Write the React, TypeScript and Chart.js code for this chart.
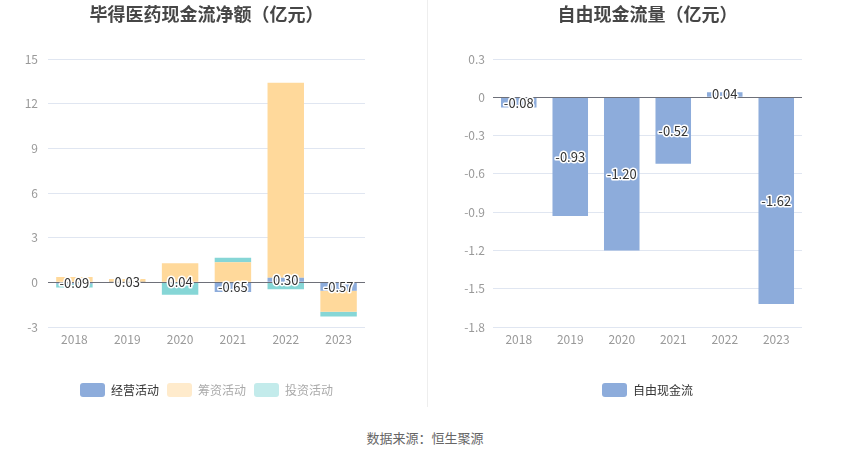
import { useEffect, useRef } from "react";
import { Chart, registerables } from "chart.js";

Chart.register(...registerables);

const YEARS = ["2018", "2019", "2020", "2021", "2022", "2023"];
// 现金流净额（亿元）
const OPERATING = [-0.09, 0.03, 0.04, -0.65, 0.3, -0.57];
const FINANCING = [0.35, 0.2, 1.25, 1.35, 13.1, -1.41];
const INVESTING = [-0.25, -0.02, -0.83, 0.3, -0.47, -0.32];
// 自由现金流量（亿元）
const FREE_CASH_FLOW = [-0.08, -0.93, -1.2, -0.52, 0.04, -1.62];

const LEFT_AXIS = { min: -3, max: 15, step: 3, decimals: 0 };
const RIGHT_AXIS = { min: -1.8, max: 0.3, step: 0.3, decimals: 1 };

const FONT = "'Noto Sans CJK SC', 'Noto Sans', sans-serif";
const BLUE = "#8DACDB";
const YELLOW = "#FFD99B";
const TEAL = "#86D6D6";

// zero line on top of the bars + value labels of the first series
const barLabels = {
  id: "barLabels",
  afterDatasetsDraw(chart: any) {
    const { ctx, chartArea, scales } = chart;
    const y0 = Math.round(scales.y.getPixelForValue(0)) + 0.5;
    ctx.save();
    ctx.strokeStyle = "#6E7079";
    ctx.lineWidth = 1;
    ctx.beginPath();
    ctx.moveTo(chartArea.left, y0);
    ctx.lineTo(chartArea.right, y0);
    ctx.stroke();

    const meta = chart.getDatasetMeta(0);
    const values = chart.data.datasets[0].data as number[];
    ctx.font = `13px ${FONT}`;
    ctx.textAlign = "center";
    ctx.textBaseline = "middle";
    ctx.lineJoin = "round";
    meta.data.forEach((bar: any, i: number) => {
      const { x, y, base } = bar.getProps(["x", "y", "base"], true);
      const cy = (y + base) / 2;
      const text = values[i].toFixed(2);
      ctx.strokeStyle = "#fff";
      ctx.lineWidth = 3;
      ctx.strokeText(text, x, cy);
      ctx.fillStyle = "#333";
      ctx.fillText(text, x, cy);
    });
    ctx.restore();
  },
};

type LegendEntry = { text: string; box: string; color: string };

type PanelProps = {
  title: string;
  datasets: { label: string; data: number[]; color: string }[];
  legend: LegendEntry[];
  axis: { min: number; max: number; step: number; decimals: number };
  axisWidth: number;
  tickPad: number;
  rightPad: number;
  style: React.CSSProperties;
};

function Panel({ title, datasets, legend, axis, axisWidth, tickPad, rightPad, style }: PanelProps) {
  const canvasRef = useRef<HTMLCanvasElement>(null);

  useEffect(() => {
    if (!canvasRef.current) return;
    const chart = new Chart(canvasRef.current, {
      type: "bar",
      data: {
        labels: YEARS,
        datasets: datasets.map((d) => ({
          label: d.label,
          data: d.data,
          backgroundColor: d.color,
          borderWidth: 0,
          barPercentage: 0.69,
          categoryPercentage: 1,
        })),
      },
      options: {
        animation: false,
        responsive: true,
        maintainAspectRatio: false,
        layout: { padding: { left: 0, right: rightPad, top: 0, bottom: 3 } },
        plugins: {
          title: {
            display: true,
            text: title,
            fullSize: false,
            color: "#464646",
            font: { family: FONT, size: 18, weight: "bold" },
            padding: { top: 3, bottom: 34.4 },
          },
          legend: {
            position: "bottom",
            fullSize: false,
            onClick: () => {},
            labels: {
              boxWidth: 25,
              boxHeight: 14,
              padding: 8,
              useBorderRadius: true,
              borderRadius: 3,
              font: { family: FONT, size: 12 },
              generateLabels: () =>
                legend.map((l, i) => ({
                  text: l.text,
                  fillStyle: l.box,
                  strokeStyle: l.box,
                  lineWidth: 0,
                  fontColor: l.color,
                  hidden: false,
                  datasetIndex: i,
                  borderRadius: 3,
                })),
            },
          },
          tooltip: { enabled: false },
        },
        scales: {
          x: {
            stacked: true,
            border: { display: false },
            grid: { display: false, drawTicks: false },
            ticks: { color: "#999", font: { family: FONT, size: 12 }, padding: 5 },
            afterFit: (s: any) => {
              s.height = 48;
            },
          },
          y: {
            stacked: true,
            min: axis.min,
            max: axis.max,
            border: { display: false },
            grid: { color: "#E0E6F1", drawTicks: false },
            ticks: {
              stepSize: axis.step,
              color: "#999",
              padding: tickPad,
              font: { family: FONT, size: 12 },
              callback: (v: any) => {
                const n = Number(v);
                if (Math.abs(n) < 1e-9) return "0";
                return n.toFixed(axis.decimals);
              },
            },
            afterFit: (s: any) => {
              s.width = axisWidth;
            },
          },
        },
      } as any,
      plugins: [barLabels],
    });
    return () => chart.destroy();
  }, []);

  return (
    <div style={{ position: "absolute", top: 0, height: 410, ...style }}>
      <canvas ref={canvasRef} />
    </div>
  );
}

export default function App() {
  return (
    <div
      style={{
        position: "absolute",
        left: 0,
        top: 0,
        width: 850,
        height: 459,
        background: "#fff",
        overflow: "hidden",
      }}
    >
      <Panel
        title="毕得医药现金流净额（亿元）"
        datasets={[
          { label: "经营活动", data: OPERATING, color: BLUE },
          { label: "筹资活动", data: FINANCING, color: YELLOW },
          { label: "投资活动", data: INVESTING, color: TEAL },
        ]}
        legend={[
          { text: "经营活动", box: BLUE, color: "#333" },
          { text: "筹资活动", box: "#FFEBCC", color: "#aaa" },
          { text: "投资活动", box: "#C3EBEB", color: "#aaa" },
        ]}
        axis={LEFT_AXIS}
        axisWidth={48}
        tickPad={10}
        rightPad={62}
        style={{ left: 0, width: 427 }}
      />
      <div
        style={{
          position: "absolute",
          left: 427,
          top: 0,
          width: 1,
          height: 407,
          background: "#eeeeee",
        }}
      />
      <Panel
        title="自由现金流量（亿元）"
        datasets={[{ label: "自由现金流", data: FREE_CASH_FLOW, color: BLUE }]}
        legend={[{ text: "自由现金流", box: BLUE, color: "#333" }]}
        axis={RIGHT_AXIS}
        axisWidth={66}
        tickPad={8}
        rightPad={48}
        style={{ left: 427, width: 423 }}
      />
      <div
        style={{
          position: "absolute",
          left: 0,
          top: 429,
          width: 850,
          textAlign: "center",
          fontFamily: FONT,
          fontSize: 13,
          lineHeight: "18px",
          color: "#666",
        }}
      >
        数据来源：恒生聚源
      </div>
    </div>
  );
}
